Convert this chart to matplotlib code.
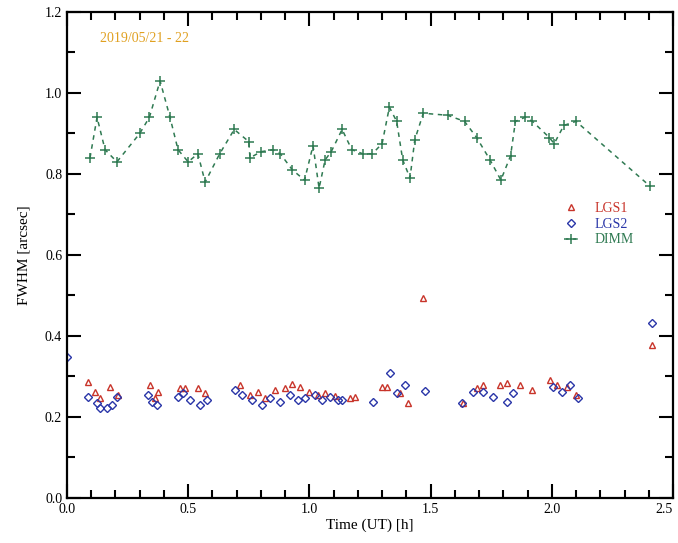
import matplotlib
matplotlib.use("Agg")
import matplotlib.pyplot as plt
from matplotlib.ticker import MultipleLocator, FormatStrFormatter

plt.rcParams['font.family'] = ['Liberation Serif', 'DejaVu Serif']

# ---- data ----
dimm_t = [0.095, 0.124, 0.157, 0.206, 0.30, 0.34, 0.384, 0.425, 0.458, 0.50, 0.54, 0.57,
          0.63, 0.69, 0.75, 0.755, 0.80, 0.85, 0.88, 0.93, 0.98, 1.015, 1.04, 1.065, 1.09,
          1.135, 1.175, 1.22, 1.26, 1.30, 1.33, 1.36, 1.385, 1.415, 1.435, 1.47, 1.57, 1.64,
          1.69, 1.745, 1.79, 1.83, 1.85, 1.89, 1.92, 1.99, 2.01, 2.05, 2.10, 2.405]
dimm_v = [0.84, 0.94, 0.86, 0.83, 0.90, 0.94, 1.03, 0.94, 0.86, 0.83, 0.85, 0.78,
          0.85, 0.91, 0.88, 0.84, 0.855, 0.86, 0.85, 0.81, 0.785, 0.87, 0.765, 0.835, 0.855,
          0.91, 0.86, 0.85, 0.85, 0.875, 0.965, 0.93, 0.835, 0.79, 0.885, 0.95, 0.945, 0.93,
          0.89, 0.835, 0.785, 0.845, 0.93, 0.94, 0.93, 0.89, 0.875, 0.92, 0.93, 0.77]

lgs1_t = [0.087, 0.116, 0.136, 0.177, 0.21, 0.342, 0.363, 0.375, 0.466, 0.487, 0.54, 0.57,
          0.714, 0.755, 0.788, 0.817, 0.858, 0.90, 0.928, 0.961, 1.0, 1.035, 1.064, 1.106,
          1.167, 1.19, 1.30, 1.32, 1.374, 1.407, 1.469, 1.634, 1.69, 1.716, 1.786, 1.815,
          1.869, 1.918, 1.993, 2.02, 2.063, 2.10, 2.413]
lgs1_v = [0.286, 0.262, 0.247, 0.274, 0.254, 0.279, 0.247, 0.262, 0.272, 0.272, 0.272, 0.26,
          0.279, 0.254, 0.262, 0.247, 0.267, 0.272, 0.281, 0.274, 0.262, 0.254, 0.259, 0.252,
          0.247, 0.249, 0.274, 0.274, 0.259, 0.235, 0.494, 0.235, 0.272, 0.279, 0.279, 0.284,
          0.279, 0.267, 0.291, 0.279, 0.274, 0.254, 0.378]

lgs2_t = [0.0, 0.087, 0.124, 0.136, 0.165, 0.186, 0.206, 0.334, 0.35, 0.371, 0.458, 0.479,
          0.507, 0.549, 0.578, 0.693, 0.722, 0.763, 0.804, 0.837, 0.879, 0.92, 0.953, 0.982,
          1.023, 1.052, 1.085, 1.118, 1.135, 1.262, 1.333, 1.36, 1.395, 1.477, 1.63, 1.675,
          1.716, 1.757, 1.815, 1.84, 2.005, 2.042, 2.075, 2.108, 2.413]
lgs2_v = [0.348, 0.249, 0.235, 0.222, 0.222, 0.23, 0.249, 0.254, 0.237, 0.23, 0.249, 0.26,
          0.242, 0.23, 0.242, 0.267, 0.254, 0.242, 0.23, 0.247, 0.237, 0.254, 0.242, 0.247,
          0.254, 0.242, 0.249, 0.242, 0.242, 0.237, 0.309, 0.259, 0.279, 0.264, 0.235, 0.262,
          0.262, 0.249, 0.237, 0.259, 0.274, 0.262, 0.279, 0.247, 0.432]

labels = ["LGS1", "LGS2", "DIMM"]
colors = ["#c8342a", "#2a36a8", "#2f7a52"]
annot = "2019/05/21 - 22"

fig = plt.figure(figsize=(6.78, 5.43), dpi=100)
ax = fig.add_axes([0.0988, 0.0829, 0.8938, 0.8950])

h3, = ax.plot(dimm_t, dimm_v, color=colors[2], linestyle=(0, (3, 3)), linewidth=1.1,
              marker='+', markersize=7, markeredgewidth=1.1, label=labels[2])
h1, = ax.plot(lgs1_t, lgs1_v, linestyle='none', marker='^', markersize=4.5,
              markerfacecolor='none', markeredgecolor=colors[0], markeredgewidth=1.0, label=labels[0])
h2, = ax.plot(lgs2_t, lgs2_v, linestyle='none', marker='D', markersize=4,
              markerfacecolor='none', markeredgecolor=colors[1], markeredgewidth=1.0, label=labels[1])

ax.set_xlim(0, 2.5)
ax.set_ylim(0, 1.2)
ax.xaxis.set_major_locator(MultipleLocator(0.5))
ax.xaxis.set_minor_locator(MultipleLocator(0.1))
ax.yaxis.set_major_locator(MultipleLocator(0.2))
ax.yaxis.set_minor_locator(MultipleLocator(0.1))
ax.xaxis.set_major_formatter(FormatStrFormatter('%.1f'))
ax.yaxis.set_major_formatter(FormatStrFormatter('%.1f'))
ax.tick_params(which='both', direction='in', top=True, right=True, labelsize=10, width=1.5)
ax.tick_params(which='major', length=10)
ax.tick_params(which='minor', length=6)
for s in ax.spines.values():
    s.set_linewidth(1.6)

fig.canvas.draw()
for tk in ax.xaxis.get_major_ticks():
    if tk.label1.get_text() == '2.5':
        tk.label1.set_horizontalalignment('right')

ax.set_xlabel("Time (UT) [h]", fontsize=11, labelpad=2)
ax.set_ylabel("FWHM [arcsec]", fontsize=11, labelpad=10)

ax.text(0.055, 0.945, annot, transform=ax.transAxes, color="#e0a020", fontsize=10,
        ha='left', va='center')

leg = ax.legend(handles=[h1, h2, h3], loc='upper left', bbox_to_anchor=(0.80, 0.635),
                frameon=False, fontsize=10, handlelength=1.0, handletextpad=1.2,
                labelspacing=0.2, numpoints=1)
for txt, c in zip(leg.get_texts(), colors):
    txt.set_color(c)

fig.savefig("out.png", dpi=100)
